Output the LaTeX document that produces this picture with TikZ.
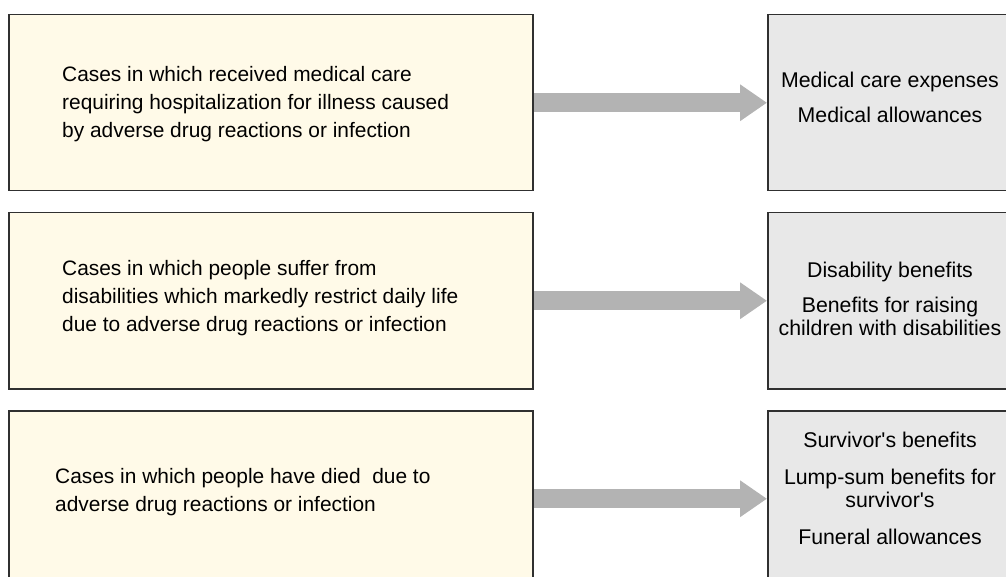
\documentclass[tikz,border=0pt]{standalone}
\usepackage{fontspec}
\setmainfont{Liberation Sans}[Ligatures=TeXOff]
\usetikzlibrary{arrows.meta}
\definecolor{cream}{HTML}{FFFAE8}
\definecolor{paleg}{HTML}{E8E8E8}
\definecolor{edge}{HTML}{303030}
\definecolor{arrowg}{HTML}{B3B3B3}
\begin{document}
\begin{tikzpicture}[x=1pt,y=-1pt,
  leftbox/.style={draw=edge, line width=1.5pt, fill=cream, minimum width=524, minimum height=176, inner sep=0pt, anchor=north west},
  rightbox/.style={draw=edge, line width=1.5pt, fill=paleg, minimum width=250, minimum height=176, inner sep=0pt, anchor=north west},
  lefttext/.style={anchor=west, align=left, inner sep=0pt, font=\fontsize{20.9}{28}\selectfont},
  righttext/.style={anchor=center, align=center, inner sep=0pt, font=\fontsize{21.3}{23}\selectfont},
  blockarrow/.style={draw=arrowg, line width=19pt, -{Triangle[length=27pt,width=35pt]}, shorten <=0.7pt}
]
\useasboundingbox (0,0) rectangle (1006,577);
\clip (0,0) rectangle (1006,577);
% left boxes
\node[leftbox] (l1) at (8,14) {};
\node[leftbox] (l2) at (8,212) {};
\node[leftbox] (l3) at (8,410) {};
% right boxes
\node[rightbox] (r1) at (767,14) {};
\node[rightbox] (r2) at (767,212) {};
\node[rightbox] (r3) at (767,410) {};
% arrows
\draw[blockarrow] (l1.east) -- (r1.west);
\draw[blockarrow] (l2.east) -- (r2.west);
\draw[blockarrow] (l3.east) -- (r3.west);
% left texts
\node[lefttext] (t1) at (62,104) {Cases in which received medical care\\requiring hospitalization for illness caused\\by adverse drug reactions or infection};
\node[lefttext] (t2) at (62,298) {Cases in which people suffer from\\disabilities which markedly restrict daily life\\due to adverse drug reactions or infection};
\node[lefttext] (t3) at (55,492) {Cases in which people have died\ \ due to\\adverse drug reactions or infection};
% right texts
\node[righttext] (s1) at (890,97.5) {Medical care expenses\\[12pt]Medical allowances};
\node[righttext] (s2) at (890,299) {Disability benefits\\[12pt]Benefits for raising\\children with disabilities};
\node[righttext] (s3) at (890,488) {Survivor's benefits\\[14pt]Lump-sum benefits for\\survivor's\\[14pt]Funeral allowances};
\end{tikzpicture}
\end{document}
